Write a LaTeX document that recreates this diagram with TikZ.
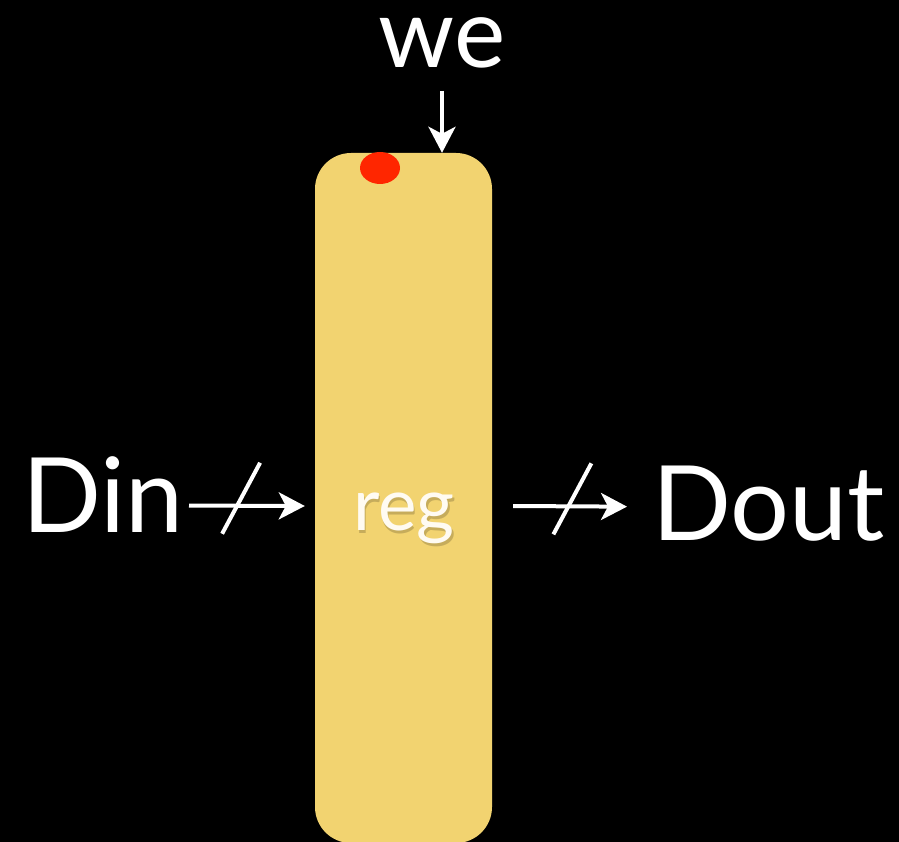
\documentclass[tikz,border=0pt]{standalone}
\usepackage{fontspec}
\setmainfont{Lato}
\usetikzlibrary{arrows.meta,shapes.geometric}
\definecolor{regyellow}{RGB}{242,211,112}
\definecolor{dotred}{RGB}{255,38,0}
\definecolor{regtext}{RGB}{255,251,242}
\begin{document}
\begin{tikzpicture}[x=1pt, y=-1pt,
  big/.style={text=white, inner sep=0pt, font=\fontsize{104}{110}\selectfont},
  small/.style={inner sep=0pt, font=\fontsize{73}{80}\selectfont},
  regbox/.style={fill=regyellow, rounded corners=36pt, minimum width=177pt, minimum height=690pt, inner sep=0pt},
  dot/.style={ellipse, fill=dotred, minimum width=40pt, minimum height=32pt, inner sep=0pt},
  bus/.style={white, line width=4pt, -{Stealth[length=26pt,width=27pt,inset=7pt]}},
  tick/.style={white, line width=4pt}
]
\useasboundingbox (0,0) rectangle (899,842);
\fill[black] (0,0) rectangle (899,842);
% register
\node[regbox] (reg) at (403.5,498) {};
\node[dot] (wedot) at (380,168) {};
\node[small, text=black, opacity=.18, anchor=base] (regshadow) at (405.5,533) {reg};
\node[small, text=regtext, anchor=base] (regname) at (404,530) {reg};
% signals
\node[big, anchor=base, font=\fontsize{97}{104}\selectfont] (we) at (442,68) {we};
\node[big, anchor=base east] (din) at (184,532) {Din};
\node[big, anchor=base west] (dout) at (652,540) {Dout};
\draw[bus, shorten <=22pt] (we.south) -- (we.south |- reg.north);
\draw[bus] ([xshift=5pt,yshift=-11.5pt]din.east) -- coordinate[pos=.45] (dinmid) ([xshift=-10pt,yshift=-8pt]reg.west);
\draw[bus] ([xshift=21pt,yshift=-8pt]reg.east) -- coordinate[pos=.52] (doutmid) ([xshift=-25pt,yshift=-3.5pt]dout.west);
\foreach \m in {dinmid,doutmid}
  \draw[tick] ([shift={(-19pt,-28pt)}]\m) -- ([shift={(19pt,43pt)}]\m);
\end{tikzpicture}
\end{document}
